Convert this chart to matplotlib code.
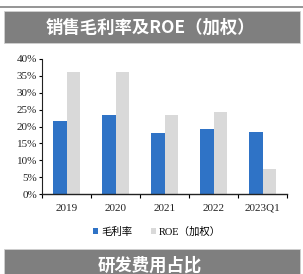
import matplotlib
matplotlib.use("Agg")
import matplotlib.pyplot as plt
import numpy as np
from matplotlib.patches import Rectangle
from matplotlib.lines import Line2D

categories = ["2019", "2020", "2021", "2022", "2023Q1"]
gross_margin = [21.6, 23.4, 18.0, 19.2, 18.5]
roe_weighted = [36.2, 36.2, 23.4, 24.4, 7.4]
yticks = [0, 5, 10, 15, 20, 25, 30, 35, 40]
title_top = "销售毛利率及ROE（加权）"
title_bottom = "研发费用占比"
legend_labels = ["毛利率", "ROE（加权）"]

W, H = 303, 274
fig = plt.figure(figsize=(W / 100, H / 100), dpi=100)
fig.patch.set_facecolor("white")

# top separator line
fig.add_artist(Line2D([0, 1], [1 - 6.5 / H, 1 - 6.5 / H], color="#8c8c8c", lw=1.3))

# title boxes
def box(y0, y1, text, ty):
    fig.add_artist(Rectangle((4 / W, 1 - y1 / H), (300 - 4) / W, (y1 - y0) / H,
                             facecolor="#7f7f7f", edgecolor="#d0d0d0", lw=0.6,
                             transform=fig.transFigure))
    fig.text(150 / W, 1 - ty / H, text, color="white", fontsize=12.5, fontweight="bold",
             ha="center", va="center", family=["Noto Sans CJK SC", "DejaVu Sans"])

box(11, 43, title_top, 27.5)
box(249, 290, title_bottom, 266)

ax = fig.add_axes([42 / W, 1 - 194 / H, (287 - 42) / W, (194 - 59) / H])
x = np.arange(len(categories))
bw = 0.285
ax.bar(x - bw / 2, gross_margin, bw, color="#2f73c6", label=legend_labels[0])
ax.bar(x + bw / 2, roe_weighted, bw, color="#d9d9d9", label=legend_labels[1])

ax.set_xlim(-0.5, len(categories) - 0.5)
ax.set_ylim(0, 40)
ax.set_yticks(yticks)
ax.set_yticklabels([f"{v}%" for v in yticks])
ax.set_xticks(x)
ax.set_xticklabels(categories)
ax.set_xticks(np.arange(len(categories) + 1) - 0.5, minor=True)
ax.tick_params(axis="x", which="major", length=0, pad=7)
ax.tick_params(axis="x", which="minor", length=3, direction="out", width=0.8)
ax.tick_params(axis="y", length=2.5, width=0.8, pad=1)
for lab in ax.get_xticklabels() + ax.get_yticklabels():
    lab.set_family(["Liberation Serif", "Noto Sans CJK SC"])
    lab.set_fontsize(8)
    lab.set_color("#222222")
for s in ["top", "right"]:
    ax.spines[s].set_visible(False)
ax.spines["left"].set_color("#222222")
ax.spines["bottom"].set_color("#222222")
ax.spines["left"].set_linewidth(0.8)
ax.spines["bottom"].set_linewidth(1.0)

leg = fig.legend(loc="center", bbox_to_anchor=(157 / W, 1 - 232 / H), ncol=2, frameon=False,
                 prop={"family": ["Liberation Serif", "Noto Sans CJK SC"], "size": 7.5},
                 handlelength=0.5, handleheight=0.5, handletextpad=0.25, columnspacing=1.8)

fig.savefig("out.png", dpi=100)
